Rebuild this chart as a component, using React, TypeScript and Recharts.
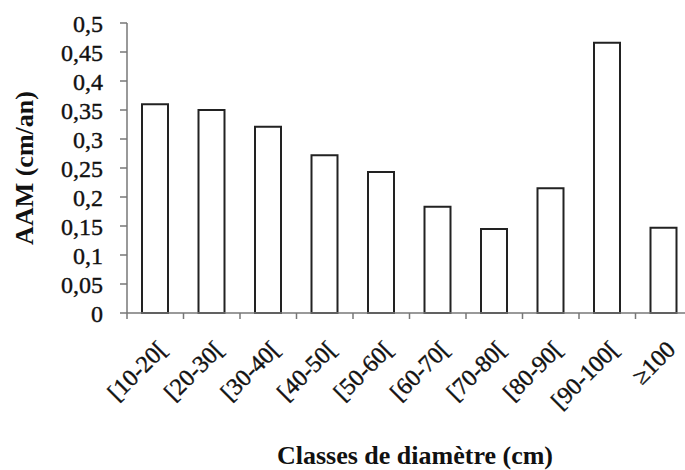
import { BarChart, Bar, XAxis, YAxis, Label } from "recharts";

const classes = ["[10-20[", "[20-30[", "[30-40[", "[40-50[", "[50-60[", "[60-70[", "[70-80[", "[80-90[", "[90-100[", "≥100"];
const aam = [0.36, 0.35, 0.321, 0.272, 0.243, 0.183, 0.145, 0.215, 0.466, 0.147];
const yTicks = [0, 0.05, 0.1, 0.15, 0.2, 0.25, 0.3, 0.35, 0.4, 0.45, 0.5];

const data = classes.map((c, i) => ({ classe: c, aam: aam[i] }));

const FONT = "Liberation Serif";
const BAND = 56.5;

function XTick(props: any) {
  const { x, y, payload, index } = props;
  return (
    <g>
      <line x1={x - BAND / 2} x2={x - BAND / 2} y1={y} y2={y + 6} stroke="#777" strokeWidth={1.5} />
      {index === classes.length - 1 ? (
        <line x1={x + BAND / 2} x2={x + BAND / 2} y1={y} y2={y + 6} stroke="#777" strokeWidth={1.5} />
      ) : null}
      <text
        transform={`translate(${x + 13},${y + 38}) rotate(-45)`}
        textAnchor="end"
        style={{ fontFamily: FONT, fontSize: 24 }}
        fill="#111"
        stroke="#111"
        strokeWidth={0.4}
      >
        {payload.value}
      </text>
    </g>
  );
}

function YTitle(props: any) {
  const { viewBox } = props;
  const cy = viewBox.y + viewBox.height / 2;
  return (
    <text
      x={24}
      y={cy}
      transform={`rotate(-90, 24, ${cy})`}
      textAnchor="middle"
      dominantBaseline="central"
      style={{ fontFamily: FONT, fontSize: 26, fontWeight: "bold" }}
      fill="#111"
    >
      AAM (cm/an)
    </text>
  );
}

function XTitle(props: any) {
  const { viewBox } = props;
  return (
    <text
      x={415}
      y={viewBox.y + 151}
      textAnchor="middle"
      style={{ fontFamily: FONT, fontSize: 26, fontWeight: "bold" }}
      fill="#111"
    >
      Classes de diamètre (cm)
    </text>
  );
}

export default function App() {
  return (
    <div style={{ position: "absolute", left: 0, top: 0, width: 685, height: 470, overflow: "hidden", background: "#fff" }}>
      <BarChart width={700} height={470} data={data} margin={{ top: 23, right: 8, left: 0, bottom: 0 }}>
        <XAxis
          dataKey="classe"
          interval={0}
          height={157}
          tickLine={false}
          tickSize={0}
          tickMargin={0}
          axisLine={{ stroke: "#777", strokeWidth: 1.5 }}
          tick={<XTick />}
        >
          <Label content={<XTitle />} />
        </XAxis>
        <YAxis
          width={127}
          domain={[0, 0.5]}
          ticks={yTicks}
          interval={0}
          tickSize={7}
          tickMargin={17}
          tickLine={{ stroke: "#777", strokeWidth: 1.5 }}
          axisLine={{ stroke: "#777", strokeWidth: 1.5 }}
          tick={{ fill: "#111", stroke: "#111", strokeWidth: 0.4, style: { fontFamily: FONT, fontSize: 24 } }}
          tickFormatter={(v: number) => String(v).replace(".", ",")}
        >
          <Label content={<YTitle />} />
        </YAxis>
        <Bar dataKey="aam" fill="#fff" stroke="#222" strokeWidth={2} barSize={26} isAnimationActive={false} />
      </BarChart>
    </div>
  );
}
